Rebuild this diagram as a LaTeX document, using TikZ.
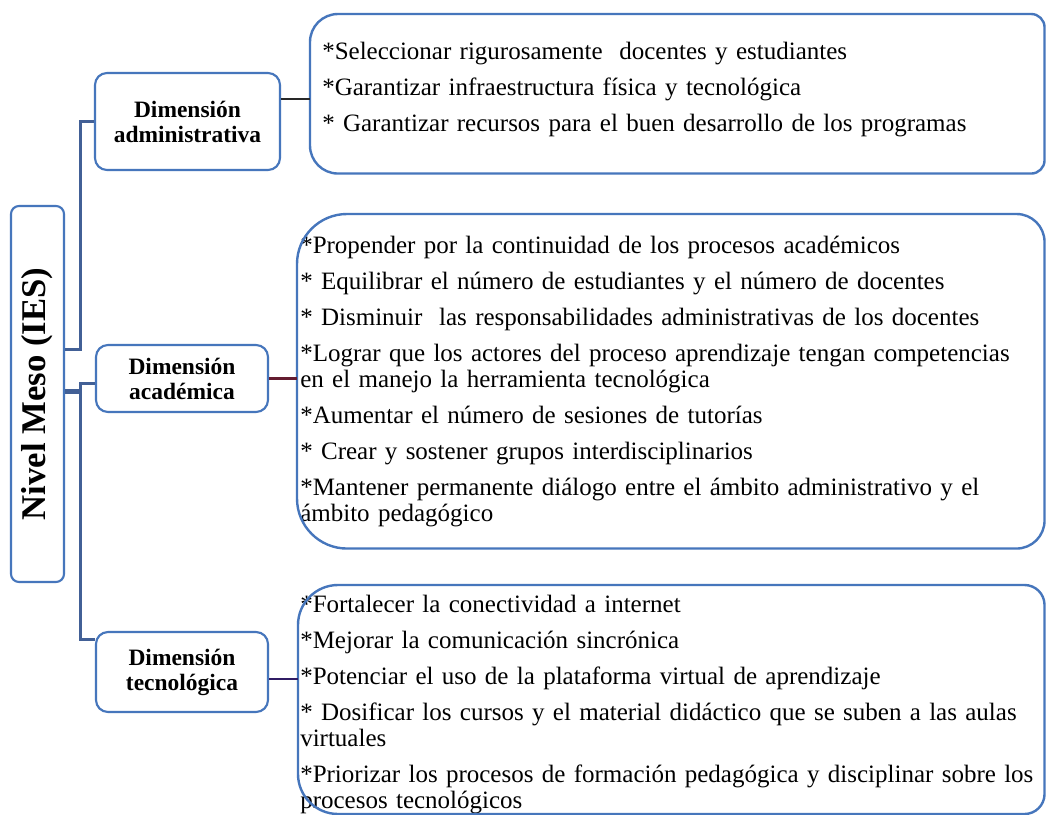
\documentclass[tikz,border=0pt]{standalone}
\usepackage{fontspec}
\setmainfont{Liberation Serif}
\usetikzlibrary{positioning}

\definecolor{boxblue}{RGB}{70,118,188}
\definecolor{trunkblue}{RGB}{66,96,150}
\definecolor{admline}{RGB}{40,40,40}
\definecolor{acadline}{RGB}{100,28,48}
\definecolor{tecline}{RGB}{48,28,100}

% frame of a list box: node, left radius, right radius
\newcommand\panelframe[3]{%
  \draw[panel] (#1.north) [rounded corners=#3] -- (#1.north east) -- (#1.east)
    -- (#1.south east) -- (#1.south) [rounded corners=#2] -- (#1.south west)
    -- (#1.west) -- (#1.north west) -- cycle;}

\begin{document}
\begin{tikzpicture}[
        x=0.75pt, y=-0.75pt,
        rootbox/.style={rectangle, draw=boxblue, line width=1.6pt, rounded corners=6pt, fill=white, minimum width=39.75pt, minimum height=282pt, inner sep=0pt, font=\bfseries\fontsize{26}{30}\selectfont},
        dimbox/.style={rectangle, draw=boxblue, line width=1.6pt, rounded corners=9pt, fill=white, align=center, inner sep=0pt, font=\bfseries\fontsize{17.6}{18.8}\selectfont},
        itembox/.style={rectangle, anchor=north west, align=left, inner ysep=0pt, font=\fontsize{18.75}{19.5}\selectfont},
        panel/.style={draw=boxblue, line width=1.8pt},
        trunk/.style={draw=trunkblue, line width=2.25pt},
        link/.style={line width=1.9pt}
    ]

        \path[use as bounding box, fill=white] (0,0) rectangle (1046,814);

        \node[rootbox] (root) at (37.5,394) {\rotatebox{90}{Nivel Meso (IES)}};

        \node[dimbox, minimum width=138.75pt, minimum height=72.75pt] (admin) at (187.5,121.5) {Dimensión\\administrativa};
        \node[dimbox, minimum width=129pt, minimum height=50.25pt] (acad) at (182,378.5) {Dimensión\\académica};
        \node[dimbox, minimum width=129pt, minimum height=60pt] (tec) at (182,672) {Dimensión\\tecnológica};

        \node[itembox, minimum width=550.5pt, minimum height=119.25pt, inner xsep=9pt, text width=532.5pt] (admitems) at (310,14) {%
            *Seleccionar rigurosamente\ \ docentes y estudiantes\\[7.5pt]
            *Garantizar infraestructura física y tecnológica\\[7.5pt]
            * Garantizar recursos para el buen desarrollo de los programas\rule[-10pt]{0pt}{0pt}};
        \node[itembox, minimum width=560.25pt, minimum height=250.5pt, inner xsep=2.25pt, text width=555.75pt] (acaditems) at (297,214) {%
            *Propender por la continuidad de los procesos académicos\\[7.5pt]
            * Equilibrar el número de estudiantes y el número de docentes\\[7.5pt]
            * Disminuir\ \ las responsabilidades administrativas de los docentes\\[7.5pt]
            *Lograr que los actores del proceso aprendizaje tengan competencias\\
            en el manejo la herramienta tecnológica\\[7.5pt]
            *Aumentar el número de sesiones de tutorías\\[7.5pt]
            * Crear y sostener grupos interdisciplinarios\\[7.5pt]
            *Mantener permanente diálogo entre el ámbito administrativo y el\\
            ámbito pedagógico};
        \node[itembox, minimum width=559.5pt, minimum height=170.25pt, inner xsep=1.5pt, text width=556.5pt] (tecitems) at (298,585) {%
            \rule{0pt}{20.3pt}*Fortalecer la conectividad a internet\\[7.5pt]
            *Mejorar la comunicación sincrónica\\[7.5pt]
            *Potenciar el uso de la plataforma virtual de aprendizaje\\[7.5pt]
            * Dosificar los cursos y el material didáctico que se suben a las aulas\\
            virtuales\\[7.5pt]
            *Priorizar los procesos de formación pedagógica y disciplinar sobre los\\
            procesos tecnológicos};

        \panelframe{admitems}{21pt}{10pt}
        \panelframe{acaditems}{37.5pt}{21pt}
        \panelframe{tecitems}{30pt}{15pt}

        % tree from the root
        \draw[trunk] ([yshift=33.75pt]root.east) -- ++(15,0) |- (admin.west);
        \draw[trunk] ([yshift=3pt]root.east) -- ++(15,0) |- ([yshift=-3.4pt]acad.west);
        \draw[trunk] ([yshift=1.5pt]root.east) -- ++(15,0) |- ([yshift=24.75pt]tec.west);

        \draw[link, draw=admline] ([yshift=-4pt]admitems.west -| admin.east) -- ([yshift=-4pt]admitems.west);
        \draw[link, draw=acadline] (acad.east) -- (acad.east -| acaditems.west);
        \draw[link, draw=tecline] ([yshift=-5.25pt]tec.east) -- ([yshift=-5.25pt]tec.east -| tecitems.west);

    \end{tikzpicture}
\end{document}
